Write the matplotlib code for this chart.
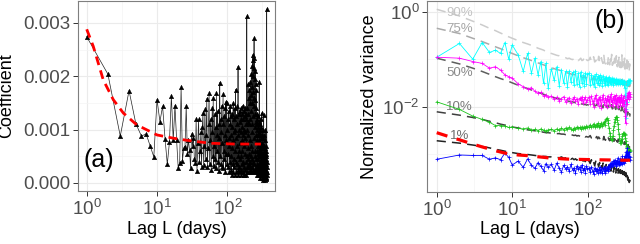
import numpy as np
import matplotlib
matplotlib.use("Agg")
import matplotlib.pyplot as plt
from matplotlib.ticker import FixedLocator, NullFormatter

plt.rcParams['font.family'] = ['Liberation Sans', 'DejaVu Sans']
plt.rcParams['mathtext.fontset'] = 'custom'
plt.rcParams['mathtext.rm'] = 'Liberation Sans'
plt.rcParams['mathtext.it'] = 'Liberation Sans:italic'

# ---------------- Panel (a) data ----------------
lags_a = list(range(1, 366))
coef_milli = [
    2.74, 2.04, 0.88, 1.73, 1.11, 0.88, 0.92, 0.69, 0.49, 1.56,
    1.15, 1.44, 0.83, 0.35, 0.76, 1.63, 0.80, 1.45, 0.80, 0.28,
    0.38, 1.79, 0.42, 0.65, 0.68,
    1.44, 0.55, 0.80, 0.62, 0.28, 0.92, 0.70, 0.85, 0.45, 0.38,
    1.19, 0.22, 0.75, 1.19, 0.40, 0.60, 0.95, 0.30, 1.05, 1.31,
    0.34, 0.70, 1.38, 0.45, 0.90, 1.58, 0.30, 0.65, 1.10, 1.68,
    0.35, 0.80, 1.20, 0.25, 0.95, 1.40, 0.50, 1.60, 0.31, 0.70,
    1.30, 0.45, 1.05, 0.28, 1.68, 0.60, 0.90, 1.35, 0.40, 1.10,
    0.22, 0.85, 1.88, 0.50, 1.20, 0.35, 0.95, 1.45, 0.30, 0.75,
    1.10, 1.66, 0.28, 0.60, 1.25, 0.45, 0.90, 1.40, 0.20, 1.52,
    0.55, 0.80, 1.49, 0.35, 1.00,
    0.30, 1.20, 0.55, 0.85, 1.35, 0.20, 0.70, 1.10, 0.40, 1.45,
    0.25, 0.90, 1.25, 0.50, 0.15, 1.05, 0.65, 1.30, 0.35, 0.80,
    1.50, 0.20, 0.95, 0.45, 1.20, 0.30, 1.40, 0.60, 0.15, 1.00,
    1.75, 0.40, 0.85, 1.25, 0.20, 0.70, 1.10, 0.35, 1.45, 0.25,
    0.90, 2.18, 0.50, 0.15, 1.30, 0.60, 1.00, 0.30, 1.35, 0.45,
    0.20, 1.15, 0.75, 1.40, 0.25, 0.95, 0.50, 1.20, 0.15, 0.80,
    1.30, 0.35, 1.05, 0.60, 0.20, 1.45, 0.40, 0.90, 1.20, 0.15,
    0.70, 1.35, 0.30, 1.00, 0.15, 1.25, 0.55, 0.85, 1.40, 0.25,
    0.95, 1.20, 0.40, 1.30, 0.15, 0.75, 1.10, 0.30, 3.12, 0.50,
    1.00, 0.20, 1.40, 0.65, 1.15, 0.30, 1.85, 0.45, 0.90, 1.30,
    0.20, 1.60, 0.55, 1.10, 0.35, 1.75, 0.25, 0.80, 1.50, 0.40,
    1.20, 1.90, 0.30, 0.70, 1.65, 0.25, 1.35, 0.50, 2.05, 0.20,
    1.10, 1.80, 0.45, 0.95, 2.20, 0.30, 1.50, 0.60, 2.40, 0.25,
    1.25, 2.00, 0.40, 1.70, 2.30, 0.20, 1.45, 0.85, 2.15, 2.71,
    0.35, 1.60, 2.35, 0.50, 1.30, 1.95, 0.25, 1.05, 2.10, 0.60,
    1.55, 0.30, 1.85, 0.90, 0.20, 1.40, 1.75, 0.45, 1.15, 0.25,
    1.30, 0.60, 1.00, 0.15, 1.20, 0.35, 0.80, 1.10, 0.20, 0.55,
    1.25, 0.30, 0.90, 0.45, 1.05, 0.15, 0.70, 1.15, 0.25, 0.60,
    0.95, 0.35, 0.50, 1.90, 0.20, 0.80, 0.40, 1.10, 0.15, 0.65,
    0.90, 0.30, 0.55, 1.00, 0.10, 0.70, 0.35, 1.20, 0.20, 0.50,
    0.85, 0.15, 0.60, 1.05, 0.25, 0.45, 1.31, 0.10, 0.70, 0.30,
    0.55, 0.90, 0.15, 0.40, 0.75, 0.20, 1.00, 0.05, 0.50, 0.30,
    0.65, 0.10, 0.45, 0.85, 0.20, 0.35, 0.60, 0.08, 1.27, 0.25,
    0.50, 0.15, 0.70, 0.30, 0.40, 0.90, 0.10, 0.55, 0.20, 0.65,
    0.35, 0.05, 0.80, 0.25, 0.45, 0.15, 0.60, 0.30, 1.00, 0.10,
    0.50, 0.20, 0.70, 0.35, 0.08, 0.55, 0.25, 0.45, 0.12, 0.60,
    0.30, 0.15, 3.26, 0.40, 0.20,
]
fit_lags_a = [1, 1.24, 1.72, 2.39, 3.32, 5.14, 10, 17, 26.5, 57, 126, 300]
fit_milli = [2.88, 2.56, 1.93, 1.56, 1.31, 1.09, 0.90, 0.84, 0.80, 0.745, 0.73, 0.73]

# ---------------- Panel (b) data (log10 of normalized variance) ----------------
lags_b = (list(range(1, 11)) + list(range(12, 31, 2)) + list(range(33, 100, 3))
          + list(range(104, 365, 4)))

cyan_log = [
    -0.96, -0.67, -1.00, -0.65, -0.86, -0.81, -0.88, -0.65, -1.00, -0.70,
    -0.91, -1.26, -0.88, -1.30, -0.98, -1.33, -1.05, -1.51, -1.09, -1.61,
    -1.20, -1.45, -1.16, -1.56, -1.22, -1.50, -1.26, -1.58, -1.25, -1.48,
    -1.28, -1.55, -1.24, -1.52, -1.30, -1.58, -1.27, -1.50, -1.33, -1.56,
    -1.29, -1.52, -1.32,
    -1.30, -1.55, -1.33, -1.52, -1.35, -1.58, -1.32, -1.50, -1.36, -1.55,
    -1.34, -1.51, -1.38, -1.56, -1.35, -1.50, -1.39, -1.54, -1.37, -1.52,
    -1.40, -1.55, -1.38, -1.50, -1.41, -1.53, -1.40, -1.49, -1.42, -1.54,
    -1.41, -1.50, -1.43, -1.52, -1.42, -1.49, -1.44, -1.53, -1.43, -1.50,
    -1.45, -1.52, -1.44, -1.49, -1.46, -1.53, -1.45, -1.50, -1.47, -1.52,
    -1.46, -1.60, -1.48, -1.75, -2.05, -2.25, -1.90, -1.55, -1.48, -1.52,
    -1.45, -1.50, -1.44, -1.49, -1.46, -1.43,
]
magenta_log = [
    -0.96, -0.98, -1.05, -1.09, -1.19, -1.16, -1.23, -1.33, -1.37, -1.40,
    -1.52, -1.58, -1.63, -1.60, -1.68, -1.72, -1.70, -1.78, -1.75, -1.80,
    -1.78, -1.85, -1.80, -1.88, -1.83, -1.79, -1.90, -1.84, -1.81, -1.92,
    -1.85, -1.80, -1.89, -1.83, -1.95, -1.82, -1.87, -1.79, -1.93, -1.84,
    -1.80, -1.90, -1.86,
    -1.80, -1.95, -1.78, -1.88, -2.00, -1.82, -1.76, -1.92, -1.85, -1.98,
    -1.79, -1.87, -2.02, -1.83, -1.75, -1.90, -1.96, -1.81, -1.86, -2.00,
    -1.77, -1.89, -1.84, -1.97, -1.80, -1.74, -1.91, -1.86, -1.99, -1.82,
    -1.78, -1.93, -1.85, -1.76, -1.95, -1.88, -1.81, -2.01, -1.84, -1.79,
    -1.90, -1.83, -1.97, -1.80, -1.75, -1.92, -1.86, -1.99, -1.82, -1.78,
    -1.94, -1.87, -2.05, -2.20, -2.35, -2.10, -1.85, -1.95, -1.80, -1.76,
    -1.72, -1.85, -1.78, -1.70, -1.80, -1.74,
]
green_log = [
    -1.90, -2.06, -2.20, -2.27, -2.33, -2.40, -2.40, -2.41, -2.44, -2.43,
    -2.46, -2.47, -2.45, -2.50, -2.48, -2.51, -2.47, -2.50, -2.52, -2.49,
    -2.48, -2.51, -2.47, -2.50, -2.46, -2.49, -2.45, -2.48, -2.44, -2.47,
    -2.50, -2.45, -2.48, -2.43, -2.46, -2.44, -2.47, -2.42, -2.45, -2.43,
    -2.46, -2.41, -2.44,
    -2.42, -2.38, -2.44, -2.40, -2.36, -2.43, -2.39, -2.41, -2.35, -2.42,
    -2.38, -2.40, -2.34, -2.41, -2.37, -2.33, -2.39, -2.30, -2.27, -2.25,
    -2.28, -2.35, -2.45, -2.55, -2.63, -2.68, -2.70, -2.69, -2.62, -2.50,
    -2.40, -2.32, -2.26, -2.22, -2.21, -2.23, -2.28, -2.36, -2.47, -2.58,
    -2.66, -2.72, -2.76, -2.77, -2.74, -2.68, -2.62, -2.58, -2.56, -2.57,
    -2.55, -2.58, -2.60, -2.66, -2.72, -2.78, -2.83, -2.86, -2.88, -2.90,
    -2.92, -2.89, -2.93, -2.95, -2.91, -2.94,
]
blue_log = [
    -3.11, -3.02, -3.03, -3.03, -3.11, -3.08, -3.12, -2.98, -3.07, -3.23,
    -3.15, -3.28, -3.10, -3.24, -3.30, -3.18, -3.26, -3.35, -3.20, -3.28,
    -3.22, -3.34, -3.19, -3.30, -3.38, -3.24, -3.31, -3.27, -3.36, -3.22,
    -3.33, -3.29, -3.40, -3.25, -3.32, -3.28, -3.37, -3.23, -3.34, -3.30,
    -3.39, -3.26, -3.31,
    -3.30, -3.38, -3.27, -3.35, -3.42, -3.29, -3.36, -3.31, -3.40, -3.33,
    -3.28, -3.37, -3.32, -3.41, -3.30, -3.35, -3.27, -3.39, -3.33, -3.29,
    -3.36, -3.25, -3.31, -3.22, -3.28, -3.18, -3.26, -3.21, -3.15, -3.24,
    -3.19, -3.12, -3.22, -3.17, -3.25, -3.14, -3.20, -3.08, -3.18, -3.23,
    -3.15, -3.21, -3.10, -3.18, -3.13, -3.22, -3.05, -3.16, -3.12, -3.19,
    -3.10, -3.15, -3.04, -3.12, -3.08, -2.95, -3.10, -3.02, -2.88, -3.06,
    -3.00, -3.10, -2.95, -3.05, -3.12, -3.07,
]
q90_log = [
    0.05, -0.09, -0.20, -0.28, -0.35, -0.40, -0.45, -0.49, -0.53, -0.56,
    -0.61, -0.65, -0.68, -0.71, -0.74, -0.77, -0.79, -0.81, -0.84, -0.86,
    -0.88, -0.90, -0.92, -0.93, -0.95, -0.96, -0.97, -0.99, -0.98, -1.00,
    -1.01, -0.99, -1.02, -1.00, -1.03, -1.01, -0.98, -1.03, -1.02, -0.97,
    -1.04, -1.01, -1.03,
    -1.02, -0.96, -1.05, -1.03, -0.95, -1.06, -1.04, -1.00, -1.07, -0.94,
    -1.06, -1.08, -0.97, -1.05, -1.09, -0.92, -1.07, -1.10, -1.02, -1.08,
    -1.11, -0.95, -1.09, -1.12, -1.00, -1.10, -0.90, -1.13, -1.11, -1.05,
    -1.14, -0.98, -1.12, -1.15, -0.93, -1.13, -1.16, -1.03, -1.15, -0.96,
    -1.17, -1.14, -1.01, -1.18, -1.16, -0.91, -1.19, -1.17, -1.06, -1.20,
    -1.18, -0.98, -1.21, -1.19, -1.10, -1.22, -1.20, -0.95, -1.23, -1.21,
    -1.05, -1.24, -1.22, -1.25, -1.10, -1.26,
]
q75_log = [
    -0.35, -0.46, -0.56, -0.63, -0.69, -0.74, -0.78, -0.82, -0.85, -0.88,
    -0.93, -0.97, -1.00, -1.03, -1.06, -1.08, -1.10, -1.12, -1.14, -1.16,
    -1.18, -1.20, -1.22, -1.23, -1.25, -1.26, -1.28, -1.29, -1.30, -1.31,
    -1.33, -1.32, -1.35, -1.34, -1.36, -1.37, -1.35, -1.38, -1.39, -1.37,
    -1.40, -1.39, -1.41,
    -1.41, -1.38, -1.43, -1.42, -1.37, -1.44, -1.43, -1.40, -1.45, -1.39,
    -1.44, -1.46, -1.41, -1.45, -1.47, -1.40, -1.46, -1.48, -1.43, -1.47,
    -1.49, -1.42, -1.48, -1.50, -1.44, -1.49, -1.41, -1.51, -1.50, -1.46,
    -1.52, -1.45, -1.51, -1.53, -1.43, -1.52, -1.54, -1.47, -1.53, -1.44,
    -1.52, -1.50, -1.45, -1.53, -1.51, -1.43, -1.54, -1.52, -1.47, -1.55,
    -1.53, -1.46, -1.55, -1.54, -1.49, -1.56, -1.55, -1.47, -1.57, -1.56,
    -1.50, -1.57, -1.56, -1.58, -1.52, -1.58,
]
q50_log = [
    -0.98, -1.10, -1.19, -1.26, -1.32, -1.37, -1.41, -1.44, -1.47, -1.50,
    -1.55, -1.59, -1.62, -1.65, -1.68, -1.70, -1.72, -1.74, -1.76, -1.78,
    -1.80, -1.81, -1.83, -1.84, -1.85, -1.86, -1.87, -1.88, -1.89, -1.90,
    -1.90, -1.91, -1.92, -1.91, -1.93, -1.94, -1.92, -1.95, -1.94, -1.96,
    -1.95, -1.97, -1.96,
    -1.97, -1.94, -1.98, -1.97, -1.93, -1.99, -1.98, -1.95, -2.00, -1.96,
    -1.99, -2.01, -1.96, -2.00, -2.02, -1.95, -2.01, -2.03, -1.98, -2.02,
    -2.03, -1.97, -2.02, -2.04, -1.99, -2.03, -1.96, -2.05, -2.04, -2.00,
    -2.05, -1.99, -2.04, -2.06, -1.98, -2.05, -2.07, -2.01, -2.06, -1.99,
    -2.08, -2.06, -2.02, -2.09, -2.07, -2.00, -2.10, -2.08, -2.04, -2.11,
    -2.09, -2.05, -2.13, -2.11, -2.08, -2.16, -2.14, -2.10, -2.18, -2.15,
    -2.12, -2.19, -2.17, -2.20, -2.15, -2.21,
]
q10_log = [
    -2.11, -2.18, -2.23, -2.27, -2.31, -2.34, -2.37, -2.39, -2.41, -2.43,
    -2.45, -2.47, -2.49, -2.50, -2.51, -2.52, -2.53, -2.54, -2.55, -2.55,
    -2.56, -2.56, -2.57, -2.57, -2.58, -2.58, -2.59, -2.58, -2.60, -2.59,
    -2.60, -2.61, -2.60, -2.62, -2.61, -2.62, -2.63, -2.61, -2.63, -2.62,
    -2.64, -2.63, -2.64,
    -2.64, -2.61, -2.66, -2.65, -2.62, -2.67, -2.66, -2.63, -2.68, -2.64,
    -2.67, -2.69, -2.64, -2.68, -2.70, -2.63, -2.69, -2.71, -2.66, -2.70,
    -2.71, -2.66, -2.70, -2.72, -2.67, -2.71, -2.65, -2.73, -2.72, -2.68,
    -2.73, -2.68, -2.72, -2.74, -2.67, -2.73, -2.75, -2.70, -2.74, -2.69,
    -2.76, -2.74, -2.71, -2.77, -2.75, -2.70, -2.78, -2.76, -2.73, -2.79,
    -2.77, -2.74, -2.80, -2.79, -2.76, -2.82, -2.81, -2.78, -2.84, -2.82,
    -2.80, -2.86, -2.85, -2.88, -2.84, -2.90,
]
q1_log = [
    -2.72, -2.77, -2.81, -2.84, -2.87, -2.90, -2.92, -2.94, -2.96, -2.97,
    -2.99, -3.00, -3.01, -3.02, -3.03, -3.04, -3.04, -3.05, -3.05, -3.06,
    -3.06, -3.07, -3.07, -3.08, -3.06, -3.09, -3.08, -3.10, -3.07, -3.11,
    -3.09, -3.12, -3.10, -3.13, -3.08, -3.12, -3.14, -3.10, -3.15, -3.12,
    -3.16, -3.11, -3.17,
    -3.14, -3.20, -3.12, -3.22, -3.17, -3.25, -3.15, -3.23, -3.19, -3.27,
    -3.18, -3.26, -3.21, -3.30, -3.19, -3.28, -3.24, -3.32, -3.22, -3.30,
    -3.26, -3.34, -3.23, -3.31, -3.28, -3.36, -3.25, -3.33, -3.30, -3.38,
    -3.27, -3.35, -3.32, -3.40, -3.29, -3.37, -3.34, -3.42, -3.31, -3.39,
    -3.36, -3.44, -3.33, -3.41, -3.38, -3.46, -3.35, -3.43, -3.40, -3.48,
    -3.37, -3.45, -3.42, -3.50, -3.39, -3.48, -3.44, -3.53, -3.46, -3.55,
    -3.49, -3.58, -3.52, -3.60, -3.55, -3.58,
]
fit_lags_b = [1, 1.5, 2, 3, 4, 6, 8, 12, 15, 20, 30, 45, 60, 90, 120, 200, 300, 365]
fit_b_log = [-2.55, -2.64, -2.70, -2.79, -2.85, -2.93, -2.98, -3.02, -3.03, -3.05,
             -3.08, -3.10, -3.11, -3.115, -3.12, -3.125, -3.13, -3.13]

quantile_labels = ["90%", "75%", "50%", "10%", "1%"]
quantile_label_y_log = [-0.02, -0.37, -1.30, -2.01, -2.63]

# ---------------- Figure ----------------
W, H = 640, 244
fig = plt.figure(figsize=(W / 100, H / 100), dpi=100)

def px_axes(x0, x1, y0, y1):
    return fig.add_axes([x0 / W, 1 - y1 / H, (x1 - x0) / W, (y1 - y0) / H])

axA = px_axes(78, 275, 1, 191)
axB = px_axes(427.3, 633.3, 1, 192)

tick_col = '#4D4D4D'
for ax in (axA, axB):
    ax.set_xscale('log')
    for s in ax.spines.values():
        s.set_color('#7F7F7F')
        s.set_linewidth(0.8)
    ax.tick_params(which='major', direction='out', length=3.5, width=0.7,
                   color='#333333', labelcolor=tick_col, labelsize=13.5, pad=2)
    ax.tick_params(which='minor', length=0)
    ax.set_axisbelow(True)
    ax.xaxis.set_major_locator(FixedLocator([1, 10, 100]))
    ax.xaxis.set_minor_locator(FixedLocator([10 ** 0.5, 10 ** 1.5, 10 ** 2.5]))
    ax.xaxis.set_minor_formatter(NullFormatter())
    ax.set_xticklabels([r'$\mathregular{10^{0}}$', r'$\mathregular{10^{1}}$',
                        r'$\mathregular{10^{2}}$'])
    ax.grid(which='major', color='#EBEBEB', linewidth=0.8)
    ax.grid(which='minor', color='#F4F4F4', linewidth=0.5)

# Panel (a)
n_a = min(len(lags_a), len(coef_milli))
coef = np.array(coef_milli[:n_a]) * 1e-3
axA.plot(lags_a[:n_a], coef, color='#222222', linewidth=0.5, marker='^',
         markersize=3.3, markerfacecolor='black', markeredgecolor='black',
         markeredgewidth=0.3, zorder=3)
axA.plot(fit_lags_a, np.array(fit_milli) * 1e-3, color='#FF0000', linewidth=2.0,
         dashes=(3.2, 2.0), zorder=4)
axA.set_xlim(10 ** -0.124, 10 ** 2.678)
axA.set_ylim(-0.00015, 0.00341)
axA.yaxis.set_major_locator(FixedLocator([0, 0.001, 0.002, 0.003]))
axA.yaxis.set_minor_locator(FixedLocator([0.0005, 0.0015, 0.0025]))
axA.set_yticklabels(['0.000', '0.001', '0.002', '0.003'])
axA.text(0.03, 0.165, '(a)', transform=axA.transAxes, fontsize=18,
         ha='left', va='center', color='black')

# Panel (b)
def pw(v):
    return 10 ** np.array(v)

q_styles = [
    (q90_log, '#CCCCCC', '#C4C4C4'),
    (q75_log, '#AAAAAA', '#A6A6A6'),
    (q50_log, '#5E5E5E', '#8A8A8A'),
    (q10_log, '#3F3F3F', '#7A7A7A'),
    (q1_log, '#222222', '#6E6E6E'),
]
for (vals, lc, tc), lab, ly in zip(q_styles, quantile_labels, quantile_label_y_log):
    n = min(len(lags_b), len(vals))
    axB.plot(lags_b[:n], pw(vals[:n]), color=lc, linewidth=1.1, dashes=(6, 4), zorder=2)
    axB.text(2.0, 10 ** ly, lab, color=tc, fontsize=9.5, ha='center', va='center', zorder=2.5)

series = [(cyan_log, '#00FFFF'), (magenta_log, '#FF00FF'),
          (green_log, '#19C319'), (blue_log, '#0000FF')]
for vals, c in series:
    n = min(len(lags_b), len(vals))
    axB.plot(lags_b[:n], pw(vals[:n]), color=c, linewidth=0.6, marker='+',
             markersize=2.2, markeredgewidth=0.5, zorder=3)

axB.plot(fit_lags_b, pw(fit_b_log), color='#FF0000', linewidth=2.3,
         dashes=(3.5, 3.0), zorder=4)

axB.set_yscale('log')
axB.set_xlim(10 ** -0.125, 10 ** 2.605)
axB.set_ylim(10 ** -3.80, 10 ** 0.225)
axB.yaxis.set_major_locator(FixedLocator([1, 1e-2]))
axB.yaxis.set_minor_locator(FixedLocator([1e-1, 1e-3]))
axB.yaxis.set_minor_formatter(NullFormatter())
axB.set_yticklabels([r'$\mathregular{10^{0}}$', r'$\mathregular{10^{-2}}$'])
axB.tick_params(axis='y', which='minor', length=0)
axB.text(0.885, 0.895, '(b)', transform=axB.transAxes, fontsize=18,
         ha='center', va='center', color='black')

# Axis titles
fig.text(7 / W, 1 - 96 / H, 'Coefficient', rotation=90, fontsize=13,
         ha='center', va='center')
fig.text(369 / W, 1 - 96.5 / H, 'Normalized variance', rotation=90, fontsize=13,
         ha='center', va='center')
fig.text(176.5 / W, 1 - 230 / H, 'Lag L (days)', fontsize=13, ha='center', va='center')
fig.text(530.3 / W, 1 - 230 / H, 'Lag L (days)', fontsize=13, ha='center', va='center')

fig.savefig('out.png', dpi=100)
